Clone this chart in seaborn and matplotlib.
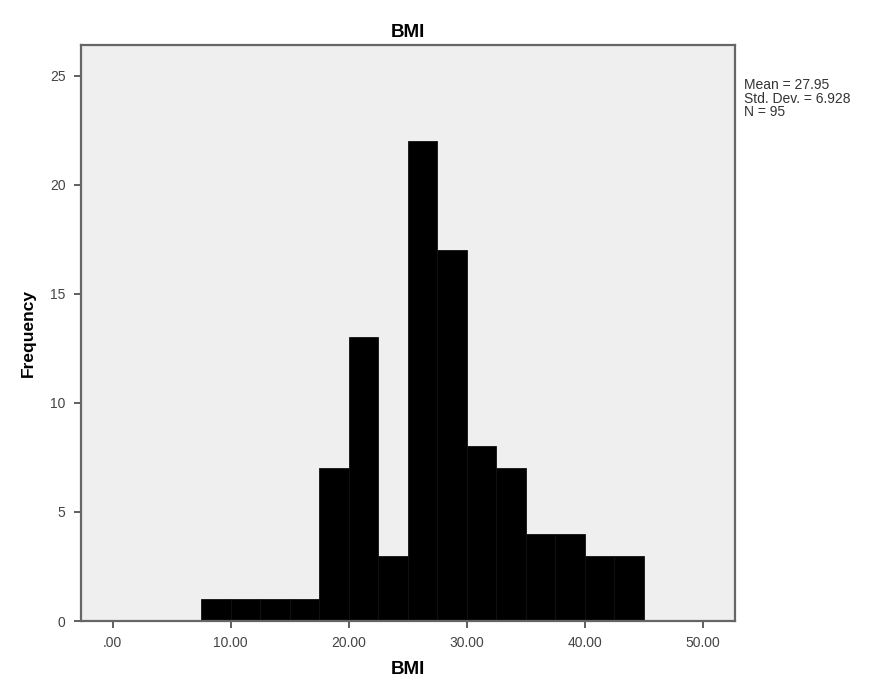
import numpy as np
import pandas as pd
import matplotlib
matplotlib.use("Agg")
import matplotlib.pyplot as plt
import seaborn as sns

# Data (bin width 2.5)
bin_lefts = [7.5, 10.0, 12.5, 15.0, 17.5, 20.0, 22.5, 25.0, 27.5, 30.0, 32.5, 35.0, 37.5, 40.0, 42.5]
counts = [1, 1, 1, 1, 7, 13, 3, 22, 17, 8, 7, 4, 4, 3, 3]
bin_width = 2.5
x_ticks = [0, 10, 20, 30, 40, 50]
x_tick_labels = [".00", "10.00", "20.00", "30.00", "40.00", "50.00"]
y_ticks = [0, 5, 10, 15, 20, 25]
stats_text = "Mean = 27.95\nStd. Dev. = 6.928\nN = 95"

df = pd.DataFrame({"BMI": [b + bin_width / 2 for b in bin_lefts], "count": counts})
edges = bin_lefts + [bin_lefts[-1] + bin_width]

sns.set_theme(style="white")
plt.rcParams["font.family"] = ["Liberation Sans", "DejaVu Sans"]

fig = plt.figure(figsize=(8.8, 6.82), dpi=100)
ax = fig.add_axes([0.0917, 0.0894, 0.835 - 0.0917, 0.934 - 0.0894])
ax.set_facecolor("#efefef")

sns.histplot(data=df, x="BMI", weights="count", bins=edges, ax=ax,
             color="black", alpha=1.0, edgecolor="#111111", linewidth=0.6)

ax.set_xlim(-2.7, 52.7)
ax.set_ylim(0, 26.4)
ax.set_xticks(x_ticks)
ax.set_xticklabels(x_tick_labels)
ax.set_yticks(y_ticks)
ax.tick_params(axis="both", which="both", direction="out", length=5, width=1.2,
               color="#444444", labelsize=10, labelcolor="#444444",
               bottom=True, left=True, pad=6)
for sp in ax.spines.values():
    sp.set_color("#666666")
    sp.set_linewidth(1.6)

ax.set_title("BMI", fontsize=13.5, fontweight="bold", pad=6, color="black")
ax.set_xlabel("BMI", fontsize=13.5, fontweight="bold", labelpad=8, color="black")
ax.set_ylabel("Frequency", fontsize=12.5, fontweight="bold", labelpad=10, color="black")

fig.text(0.846, 0.886, stats_text, fontsize=10, color="#333333",
         va="top", ha="left", linespacing=0.98)

fig.savefig("out.png", dpi=100, facecolor="white")
